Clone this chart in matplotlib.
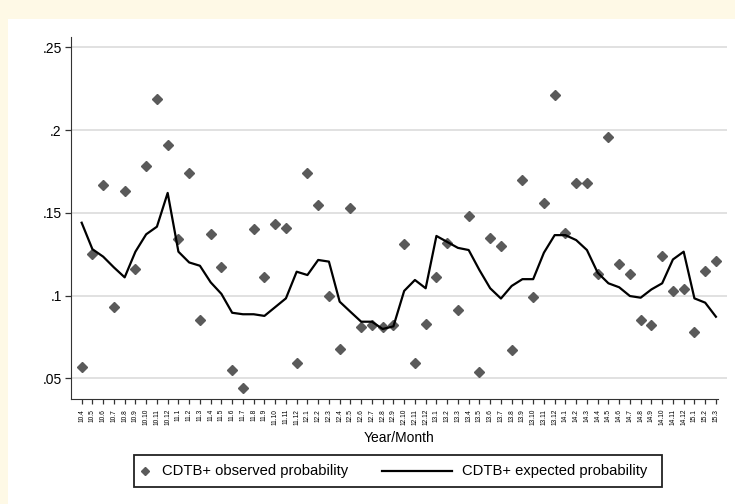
import numpy as np
import matplotlib
matplotlib.use("Agg")
import matplotlib.pyplot as plt
from matplotlib.patches import Rectangle
from matplotlib.lines import Line2D

plt.rcParams['font.family'] = ['Liberation Sans', 'DejaVu Sans']

# monthly series, 2010.4 - 2015.3
years = [10, 11, 12, 13, 14, 15]
first_month = 4
n_months = 60

observed = [0.057, 0.125, 0.167, 0.093, 0.163, 0.116, 0.178, 0.219, 0.191, 0.134,
            0.174, 0.085, 0.137, 0.117, 0.055, 0.044, 0.140, 0.111, 0.143, 0.141,
            0.059, 0.174, 0.155, 0.100, 0.068, 0.153, 0.081, 0.082, 0.081, 0.082,
            0.131, 0.059, 0.083, 0.111, 0.132, 0.091, 0.148, 0.054, 0.135, 0.130,
            0.067, 0.170, 0.099, 0.156, 0.221, 0.138, 0.168, 0.168, 0.113, 0.196,
            0.119, 0.113, 0.085, 0.082, 0.124, 0.103, 0.104, 0.078, 0.115, 0.121]

expected = [0.144, 0.128, 0.1235, 0.117, 0.111, 0.1265, 0.137, 0.1416, 0.162, 0.1265,
            0.120, 0.118, 0.108, 0.101, 0.0896, 0.0887, 0.0887, 0.0877, 0.093, 0.0983,
            0.1144, 0.1124, 0.1215, 0.1205, 0.0963, 0.0902, 0.0842, 0.0842, 0.0798, 0.0814,
            0.1028, 0.1094, 0.1044, 0.136, 0.1324, 0.1288, 0.1275, 0.1154, 0.1044, 0.0982,
            0.1058, 0.1099, 0.1099, 0.1259, 0.1365, 0.1365, 0.1335, 0.1275, 0.1138, 0.1074,
            0.105, 0.0997, 0.0987, 0.1037, 0.1074, 0.1218, 0.1265, 0.0983, 0.0957, 0.0872]

yticks = [0.05, 0.1, 0.15, 0.2, 0.25]
ytick_labels = ['.05', '.1', '.15', '.2', '.25']

# build the year.month labels
labels = []
y_i, m = 0, first_month
for k in range(n_months):
    labels.append(f"{years[y_i]}.{m}")
    m += 1
    if m > 12:
        m = 1
        y_i += 1

W, H = 735, 504
fig = plt.figure(figsize=(W / 100, H / 100), dpi=100, facecolor='#fef9e6')
# white plot region (cream strip stays at top/left)
fig.patches.append(Rectangle((8 / W, 0), 1, 1 - 19 / H, transform=fig.transFigure,
                             facecolor='white', edgecolor='none', zorder=-5))

ax = fig.add_axes([70.7 / W, (H - 399) / H, (727 - 70.7) / W, (399 - 37) / H])
ax.set_zorder(2)
ax.set_facecolor('none')
x = np.arange(n_months)

ax.plot(x, observed, linestyle='none', marker='D', markersize=5.3,
        color='#5a5a5a', zorder=3)
ax.plot(x, expected, color='black', linewidth=1.6, zorder=4)

ax.set_xlim(-1.02, 60.03)
ax.set_ylim(0.0375, 0.2562)
ax.set_yticks(yticks)
ax.set_yticklabels(ytick_labels, fontsize=10)
ax.set_xticks(x)
ax.set_xticklabels(labels, rotation=90, fontsize=4.8)
ax.yaxis.grid(True, color='#d9d9d9', linewidth=1.1)
ax.set_axisbelow(True)

for s in ['top', 'right']:
    ax.spines[s].set_visible(False)
ax.spines['left'].set_color('#333333')
ax.spines['bottom'].set_color('#333333')
ax.spines['bottom'].set_bounds(-1.02, 59.2)
ax.tick_params(axis='y', length=4.5, width=0.9, color='#333333', pad=2)
ax.tick_params(axis='x', length=3.6, width=0.9, color='#333333', pad=3.5)
ax.set_xlabel('Year/Month', fontsize=10, labelpad=4)

# legend box drawn by hand
def fx(px):
    return px / W

def fy(py):
    return 1 - py / H

fig.patches.append(Rectangle((fx(134), fy(487)), fx(662) - fx(134), fy(455) - fy(487),
                             transform=fig.transFigure, facecolor='white',
                             edgecolor='#222222', linewidth=1.3, zorder=5))
ly = fy(471)
fig.lines.append(Line2D([fx(145)], [ly], transform=fig.transFigure, linestyle='none',
                        marker='D', markersize=4.0, color='#5a5a5a', zorder=6))
fig.text(fx(162), ly, 'CDTB+ observed probability', fontsize=10.6,
         va='center', ha='left', zorder=6)
fig.lines.append(Line2D([fx(382), fx(452)], [ly, ly], transform=fig.transFigure,
                        color='black', linewidth=1.6, zorder=6))
fig.text(fx(462), ly, 'CDTB+ expected probability', fontsize=10.6,
         va='center', ha='left', zorder=6)

fig.savefig('out.png', dpi=100, facecolor=fig.get_facecolor())
